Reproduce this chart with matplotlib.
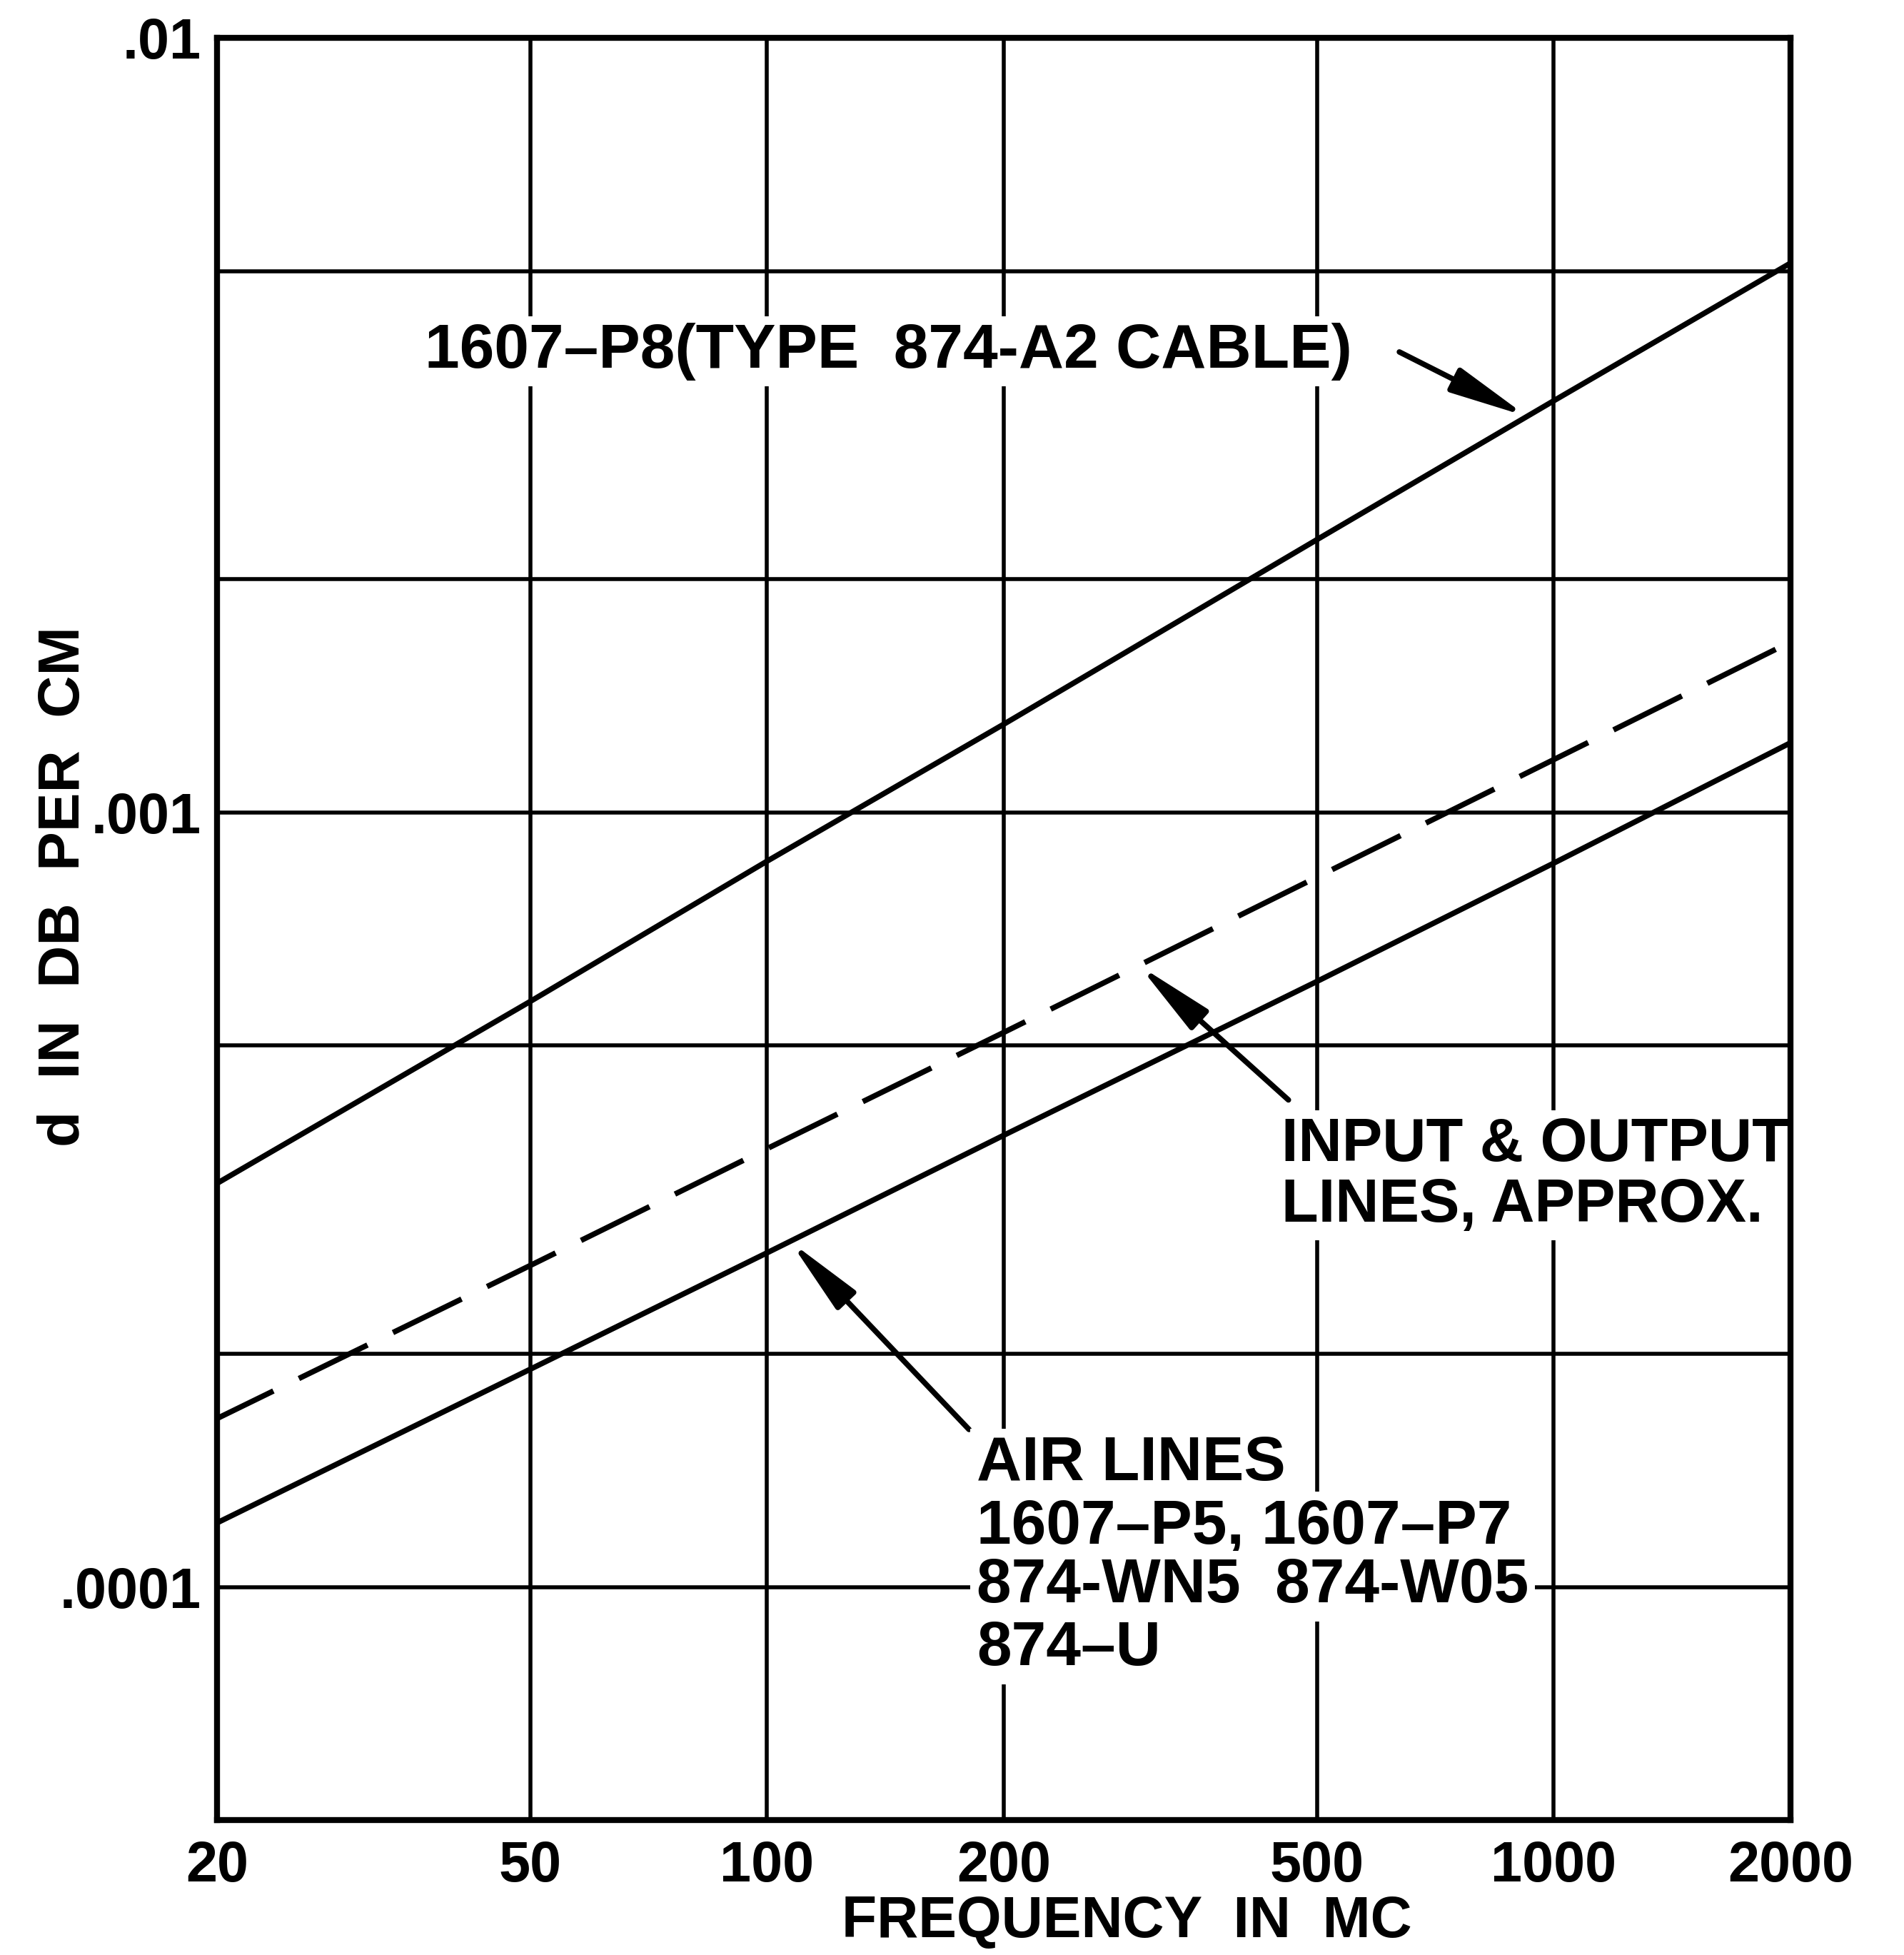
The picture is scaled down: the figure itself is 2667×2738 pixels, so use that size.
import numpy as np
import matplotlib.pyplot as plt
from matplotlib.ticker import NullFormatter

# values: frequency in Mc, attenuation d in dB per cm
freq = np.array([20, 50, 100, 200, 500, 1000, 2000])
p8_cable = np.array([3.32e-4, 5.7e-4, 8.65e-4, 1.30e-3, 2.25e-3, 3.40e-3, 5.12e-3])
io_lines = np.array([1.65e-4, 2.6e-4, 3.68e-4, 5.2e-4, 8.25e-4, 1.17e-3, 1.66e-3])
air_lines = np.array([1.21e-4, 1.91e-4, 2.7e-4, 3.83e-4, 6.05e-4, 8.6e-4, 1.23e-3])

x_ticks = [20, 50, 100, 200, 500, 1000, 2000]
x_labels = ['20', '50', '100', '200', '500', '1000', '2000']
y_ticks = [1e-4, 1e-3, 1e-2]
y_labels = ['.0001', '.001', '.01']
y_minor = [2e-4, 5e-4, 2e-3, 5e-3]

plt.rcParams['font.family'] = ['Liberation Sans', 'DejaVu Sans']
plt.rcParams['font.weight'] = 'bold'

fig = plt.figure(figsize=(26.67, 27.38), dpi=100)
ax = fig.add_axes([0.1140, 0.0690, 0.8264, 0.9116])
ax.set_xscale('log')
ax.set_yscale('log')
ax.set_xlim(20, 2000)
ax.set_ylim(5e-5, 1e-2)

lw = 5.5
ax.plot(freq, p8_cable, color='black', lw=lw)
ax.plot(freq, io_lines, color='black', lw=lw, ls=(2.5, (14, 5.2)), dash_capstyle='butt')
ax.plot(freq, air_lines, color='black', lw=lw)

# axes, grid and ticks
ax.set_xticks(x_ticks, x_labels)
ax.set_xticks([], minor=True)
ax.set_yticks(y_ticks, y_labels)
ax.set_yticks(y_minor, minor=True)
ax.yaxis.set_minor_formatter(NullFormatter())
ax.tick_params(which='both', length=0, labelsize=57)
ax.tick_params(axis='x', pad=20)
ax.tick_params(axis='y', pad=16)
ax.grid(True, which='major', axis='x', color='black', lw=4)
ax.grid(True, which='both', axis='y', color='black', lw=4)
ax.set_axisbelow(True)
for sp in ax.spines.values():
    sp.set_linewidth(6)
    sp.set_zorder(5)

ax.text(0.578, -0.0655, 'FREQUENCY  IN  MC', transform=ax.transAxes,
        fontsize=58, ha='center', va='baseline')
ax.text(-0.097, 0.524, 'd  IN  DB  PER  CM', transform=ax.transAxes,
        fontsize=59, rotation=90, ha='center', va='center')


def on_curve(f, vals):
    return 10 ** np.interp(np.log10(f), np.log10(freq), np.log10(vals))


box = dict(boxstyle='square,pad=0.1', fc='white', ec='none')
arrow = dict(arrowstyle='-|>,head_length=6.5,head_width=1.1', mutation_scale=10,
             color='black', lw=5.5, shrinkA=0, shrinkB=0)


def label(x, y, s, size=63):
    ax.text(x, y, s, transform=ax.transAxes, fontsize=size, ha='left',
            va='baseline', bbox=box, zorder=4)


# 1607-P8 cable
label(0.1322, 0.8151, '1607–P8(TYPE  874-A2 CABLE)')
ax.annotate('', xy=(925, on_curve(925, p8_cable)), xytext=(0.7514, 0.8238),
            textcoords='axes fraction', arrowprops=arrow)

# input & output lines
label(0.6766, 0.3700, 'INPUT & OUTPUT', size=61)
label(0.6766, 0.3359, 'LINES, APPROX.', size=61)
ax.annotate('', xy=(297, on_curve(297, io_lines)), xytext=(0.6809, 0.4041),
            textcoords='axes fraction', arrowprops=arrow)

# air lines
label(0.4828, 0.1909, 'AIR LINES')
label(0.4828, 0.1554, '1607–P5, 1607–P7')
label(0.4828, 0.1223, '874-WN5  874-W05')
label(0.4828, 0.0868, '874–U')
ax.annotate('', xy=(107, on_curve(107, air_lines)), xytext=(0.4779, 0.2192),
            textcoords='axes fraction', arrowprops=arrow)

fig.savefig('out.png', dpi=100)
